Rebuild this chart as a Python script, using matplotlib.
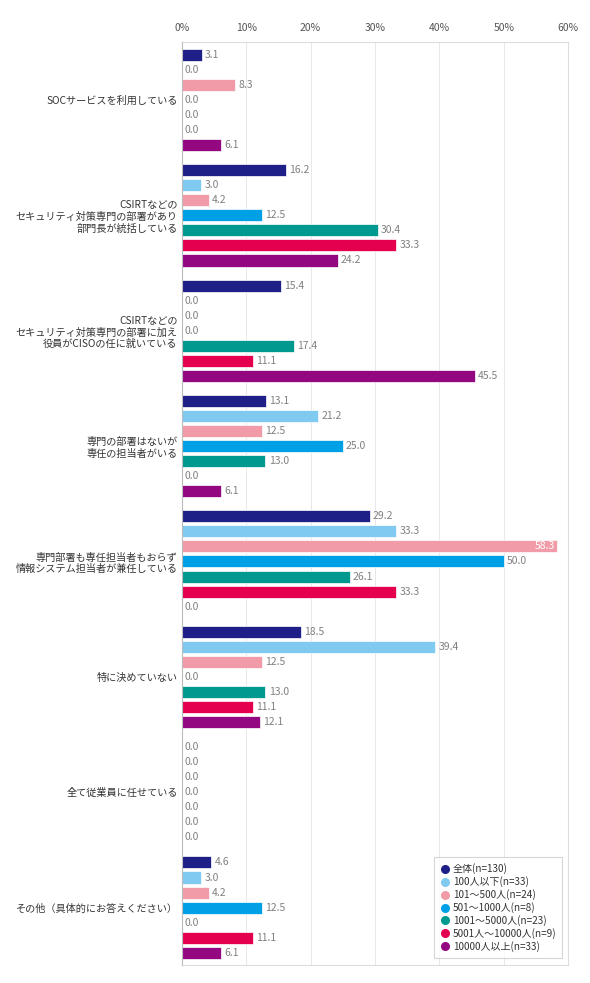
import matplotlib
matplotlib.use("Agg")
import matplotlib.pyplot as plt
from matplotlib.lines import Line2D
import numpy as np

plt.rcParams['font.family'] = ['Noto Sans CJK JP', 'DejaVu Sans']

categories = [
    "SOCサービスを利用している",
    "CSIRTなどの\nセキュリティ対策専門の部署があり\n部門長が統括している",
    "CSIRTなどの\nセキュリティ対策専門の部署に加え\n役員がCISOの任に就いている",
    "専門の部署はないが\n専任の担当者がいる",
    "専門部署も専任担当者もおらず\n情報システム担当者が兼任している",
    "特に決めていない",
    "全て従業員に任せている",
    "その他（具体的にお答えください）",
]
series_names = ["全体(n=130)", "100人以下(n=33)", "101～500人(n=24)", "501～1000人(n=8)",
                "1001～5000人(n=23)", "5001人～10000人(n=9)", "10000人以上(n=33)"]
colors = ["#1f1f88", "#80caf1", "#f09ba7", "#00a0e6", "#00998f", "#e4004f", "#930781"]

total    = [3.1, 16.2, 15.4, 13.1, 29.2, 18.5, 0.0, 4.6]
s100     = [0.0, 3.0, 0.0, 21.2, 33.3, 39.4, 0.0, 3.0]
s500     = [8.3, 4.2, 0.0, 12.5, 58.3, 12.5, 0.0, 4.2]
s1000    = [0.0, 12.5, 0.0, 25.0, 50.0, 0.0, 0.0, 12.5]
s5000    = [0.0, 30.4, 17.4, 13.0, 26.1, 13.0, 0.0, 0.0]
s10000   = [0.0, 33.3, 11.1, 0.0, 33.3, 11.1, 0.0, 11.1]
s10000up = [6.1, 24.2, 45.5, 6.1, 0.0, 12.1, 0.0, 6.1]
series = [total, s100, s500, s1000, s5000, s10000, s10000up]

fig = plt.figure(figsize=(5.9, 9.83), dpi=100)
ax = fig.add_axes([0.308, 0.018, 0.655, 0.939])

step = 15 / 115
height = 12 / 115
n = len(series)
for j, (vals, col) in enumerate(zip(series, colors)):
    for i, v in enumerate(vals):
        y = i + (j - (n - 1) / 2) * step
        if v > 0:
            ax.barh(y, v, height=height, color=col, edgecolor="white", linewidth=0.5, zorder=3)
        if v > 55:
            ax.text(v - 0.3, y, f"{v:.1f}", ha="right", va="center", fontsize=7.5,
                    color="white", zorder=4)
        else:
            ax.text(v + 0.5, y, f"{v:.1f}", ha="left", va="center", fontsize=7.5,
                    color="#808080", zorder=4)

ax.set_xlim(0, 60)
ax.set_ylim(len(categories) - 0.5, -0.5)
ax.set_yticks(range(len(categories)))
ax.set_yticklabels(categories, fontsize=7.3, color="#333333", linespacing=1.2)
ax.set_xticks(np.arange(0, 61, 10))
ax.set_xticklabels([f"{t}%" for t in range(0, 61, 10)], fontsize=7.5, color="#555555")
ax.xaxis.tick_top()
ax.tick_params(axis="y", length=0, pad=3)
ax.tick_params(axis="x", length=0, pad=7)
ax.grid(axis="x", color="#e8e8e8", linewidth=0.7, zorder=0)
for sp in ax.spines.values():
    sp.set_color("#dddddd")
    sp.set_linewidth(0.8)
ax.spines["left"].set_color("#bbbbbb")
ax.spines["left"].set_zorder(5)

handles = [Line2D([], [], marker="o", linestyle="", color=c, markersize=5.5) for c in colors]
leg = ax.legend(handles, series_names, loc="lower right", bbox_to_anchor=(0.985, 0.008),
                fontsize=7.2, frameon=True, fancybox=False, handletextpad=0.35,
                labelspacing=0.2, borderpad=0.6, handlelength=0.9, borderaxespad=0)
leg.get_frame().set_edgecolor("#cccccc")
leg.get_frame().set_linewidth(0.8)
for t in leg.get_texts():
    t.set_color("#333333")

fig.savefig("out.png", dpi=100)
